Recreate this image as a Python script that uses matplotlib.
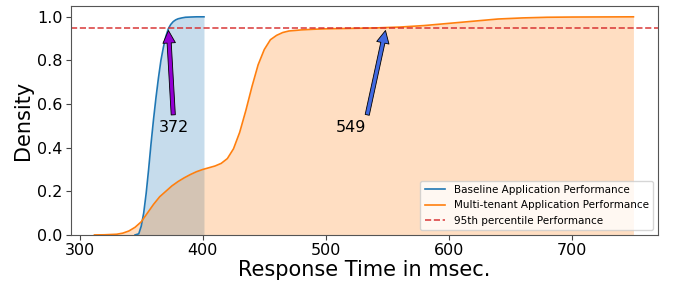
import matplotlib
matplotlib.use('Agg')
import matplotlib.pyplot as plt

# baseline response time CDF
base_x = [345, 348, 350, 352, 354, 356, 358, 360, 362, 364, 366, 368, 370, 372,
          374, 376, 378, 380, 383, 386, 390, 395, 401]
base_y = [0, 0.005, 0.04, 0.1, 0.19, 0.3, 0.42, 0.53, 0.63, 0.72, 0.8, 0.86, 0.91,
          0.945, 0.965, 0.978, 0.986, 0.991, 0.995, 0.998, 0.999, 1.0, 1.0]

# multi-tenant response time CDF
multi_x = [312, 320, 330, 335, 340, 345, 350, 355, 360, 365, 370, 375, 380, 385, 390,
           395, 400, 405, 410, 415, 420, 425, 430, 435, 440, 445, 450, 455, 460, 465,
           470, 480, 490, 500, 520, 540, 560, 580, 600, 620, 640, 660, 680, 700, 750]
multi_y = [0, 0.0005, 0.003, 0.008, 0.018, 0.035, 0.06, 0.1, 0.14, 0.175, 0.2, 0.225,
           0.245, 0.262, 0.277, 0.29, 0.3, 0.308, 0.316, 0.328, 0.35, 0.395, 0.47, 0.57,
           0.68, 0.78, 0.85, 0.895, 0.915, 0.928, 0.935, 0.94, 0.943, 0.945, 0.947,
           0.949, 0.953, 0.96, 0.97, 0.98, 0.99, 0.995, 0.998, 0.999, 1.0]

p95 = 0.95
p95_base = 372
p95_multi = 549

fig = plt.figure(figsize=(6.77, 2.82), dpi=100)
ax = fig.add_subplot(111)
plt.subplots_adjust(left=0.105, right=0.972, top=0.979, bottom=0.167)

ax.plot(base_x, base_y, color='tab:blue', lw=1.2, label='Baseline Application Performance')
ax.fill_between(base_x, base_y, color='tab:blue', alpha=0.25, lw=0)
ax.plot(multi_x, multi_y, color='tab:orange', lw=1.2, label='Multi-tenant Application Performance')
ax.fill_between(multi_x, multi_y, color='tab:orange', alpha=0.25, lw=0)
ax.axhline(p95, color='tab:red', ls='--', lw=1.2, alpha=0.85, label='95th percentile Performance')

ax.annotate(str(p95_base), xy=(p95_base, p95), xytext=(364, 0.47), fontsize=11.5,
            arrowprops=dict(facecolor='darkviolet', edgecolor='black', lw=0.6,
                            width=3, headwidth=9, headlength=9, shrink=0.03))
ax.annotate(str(p95_multi), xy=(p95_multi, p95), xytext=(508, 0.47), fontsize=11.5,
            arrowprops=dict(facecolor='royalblue', edgecolor='black', lw=0.6,
                            width=3, headwidth=9, headlength=9, shrink=0.03))

ax.set_xlim(293, 770)
ax.set_ylim(0, 1.05)
ax.set_xticks([300, 400, 500, 600, 700])
ax.tick_params(labelsize=11.5, color='#444444', pad=2.5)
for s in ax.spines.values():
    s.set_color('#555555')
ax.set_xlabel('Response Time in msec.', fontsize=15, labelpad=1)
ax.set_ylabel('Density', fontsize=15, labelpad=3)
ax.legend(loc='lower right', fontsize=7.5)

plt.savefig('out.png', dpi=100)
plt.close()
